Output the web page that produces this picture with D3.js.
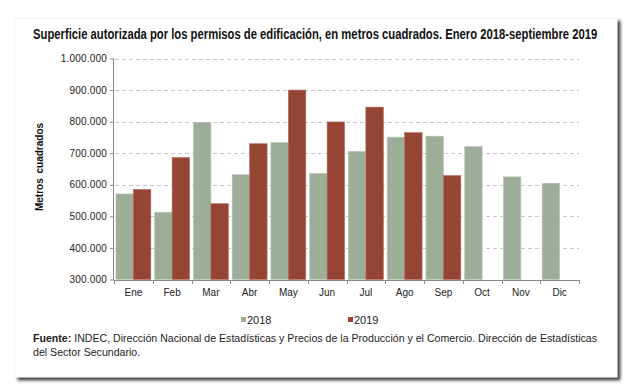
<!DOCTYPE html>
<html><head><meta charset="utf-8">
<script src="https://cdn.jsdelivr.net/npm/d3@7"></script>
<style>body{margin:0;background:#fff;}svg{display:block;}</style>
</head><body>
<svg id="c" width="630" height="390"></svg>
<script>
const months = ["Ene","Feb","Mar","Abr","May","Jun","Jul","Ago","Sep","Oct","Nov","Dic"];
const series = ["2018","2019"];
const values2018 = [571000,513000,798000,632000,734000,636000,706000,751000,754000,721000,625000,605000];
const values2019 = [585000,686000,540000,730000,900000,799000,846000,765000,629000,null,null,null];
const yTicks = [300000,400000,500000,600000,700000,800000,900000,1000000];
const colors = {"2018":"#9cad98","2019":"#964535"};

const svg = d3.select("#c");
const defs = svg.append("defs");
const f = defs.append("filter").attr("id","sh").attr("x","-5%").attr("y","-5%").attr("width","112%").attr("height","115%");
f.append("feDropShadow").attr("dx",3).attr("dy",3).attr("stdDeviation",1.6).attr("flood-color","#222").attr("flood-opacity",0.85);

svg.append("rect").attr("x",15).attr("y",18).attr("width",602).attr("height",359)
  .attr("fill","#fff").attr("stroke","#f0f0f0").attr("stroke-width",0.8).attr("filter","url(#sh)");

const fmt = v => d3.format(",")(v).replace(/,/g,".");

const x0 = d3.scaleBand().domain(months).range([114,579]).paddingInner(0.1).paddingOuter(0.05);
const x1 = d3.scaleBand().domain(series).range([0,x0.bandwidth()]);
const y = d3.scaleLinear().domain([300000,1000000]).range([279.5,58.5]);

function fit(sel, target, size){
  let s = size;
  sel.attr("font-size", s+"px");
  let w = sel.node().getComputedTextLength();
  while (w > target && s > 6){ s -= 0.1; sel.attr("font-size", s.toFixed(2)+"px"); w = sel.node().getComputedTextLength(); }
}

// gridlines
svg.append("g").selectAll("line").data(yTicks.filter(t=>t>300000)).join("line")
  .attr("x1",115).attr("x2",579).attr("y1",d=>Math.round(y(d))+0.5).attr("y2",d=>Math.round(y(d))+0.5)
  .attr("stroke","#c8c8c8").attr("stroke-width",1).attr("stroke-dasharray","4,3");

// bars
const rows = months.map((m,i)=>({m, vals:[{s:"2018",v:values2018[i]},{s:"2019",v:values2019[i]}]}));
const g = svg.append("g");
g.selectAll("g").data(rows).join("g").attr("transform",d=>`translate(${x0(d.m)},0)`)
  .selectAll("rect").data(d=>d.vals.filter(e=>e.v!=null)).join("rect")
  .attr("x",d=>x1(d.s)).attr("width",x1.bandwidth())
  .attr("y",d=>y(d.v)).attr("height",d=>y(300000)-y(d.v))
  .attr("fill",d=>colors[d.s])
  .attr("stroke",d=>d.s==="2018"?"#b9c6b5":"#b0685a").attr("stroke-width",0.6);

// y axis
const ya = svg.append("g").attr("transform","translate(114,0)")
  .call(d3.axisLeft(y).tickValues(yTicks).tickFormat(fmt).tickSize(4).tickPadding(3));
ya.select(".domain").attr("stroke","#888").attr("d","M-0.5,58.5V280");
ya.selectAll(".tick line").attr("stroke","#888");
ya.selectAll("text").attr("font-family","Liberation Sans, Arial, sans-serif").attr("font-size","10px").attr("fill","#222").attr("letter-spacing","0.2px");

// x axis
const xa = svg.append("g").attr("transform","translate(0,280)")
  .call(d3.axisBottom(x0).tickSize(0).tickPadding(9));
xa.select(".domain").attr("stroke","#888");
xa.selectAll("text").attr("font-family","Liberation Sans, Arial, sans-serif").attr("font-size","10px").attr("fill","#222");
const bounds = months.map(m=>x0(m)-x0.step()*x0.paddingInner()/2).concat([579]);
svg.append("g").selectAll("line").data(bounds).join("line")
  .attr("x1",d=>Math.round(d)+0.5).attr("x2",d=>Math.round(d)+0.5).attr("y1",280).attr("y2",284)
  .attr("stroke","#888");

// y title
svg.append("text").attr("transform","translate(43,167) rotate(-90)").attr("text-anchor","middle")
  .attr("font-family","Liberation Sans, Arial, sans-serif").attr("font-size","10px").attr("font-weight","bold")
  .attr("fill","#111").attr("word-spacing","2px").text("Metros cuadrados");

// title (condensed by horizontal scale)
const title = svg.append("text").attr("x",0).attr("y",0)
  .attr("font-family","Liberation Sans, Arial, sans-serif")
  .attr("font-size","14.5px").attr("font-weight","bold").attr("fill","#111")
  .text("Superficie autorizada por los permisos de edificación, en metros cuadrados. Enero 2018-septiembre 2019");
const tw = title.node().getComputedTextLength();
title.attr("transform",`translate(33,39) scale(${(565/tw).toFixed(4)},1)`);

// legend
const leg = svg.append("g");
const legPos = [{s:"2018",x:241},{s:"2019",x:348}];
legPos.forEach(p=>{
  leg.append("rect").attr("x",p.x).attr("y",317).attr("width",5).attr("height",5).attr("fill",colors[p.s]);
  leg.append("text").attr("x",p.x+6).attr("y",324).attr("font-family","Liberation Sans, Arial, sans-serif")
    .attr("font-size","11px").attr("fill","#222").text(p.s);
});

// source
const src = svg.append("text").attr("x",33).attr("y",342).attr("font-family","Liberation Sans, Arial, sans-serif")
  .attr("fill","#222");
src.append("tspan").attr("font-weight","bold").text("Fuente:");
src.append("tspan").text(" INDEC, Dirección Nacional de Estadísticas y Precios de la Producción y el Comercio. Dirección de Estadísticas");
fit(src, 566, 11);
svg.append("text").attr("x",33).attr("y",356).attr("font-family","Liberation Sans, Arial, sans-serif")
  .attr("font-size",src.attr("font-size")).attr("fill","#222").text("del Sector Secundario.");
</script>
</body></html>
